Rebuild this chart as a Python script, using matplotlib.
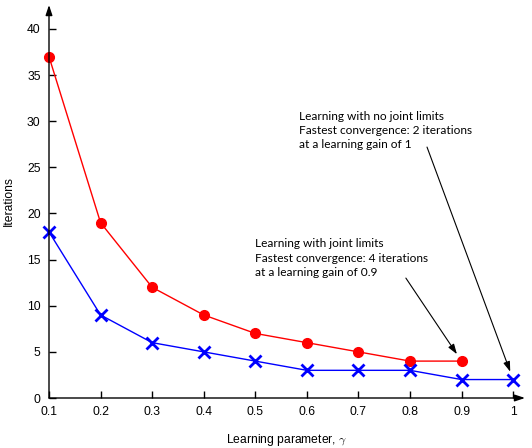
import numpy as np
import matplotlib
matplotlib.use("Agg")
import matplotlib.pyplot as plt

plt.rcParams["font.family"] = ["Liberation Sans", "DejaVu Sans"]
plt.rcParams["mathtext.fontset"] = "cm"

# learning gain sweep
gain = [0.1, 0.2, 0.3, 0.4, 0.5, 0.6, 0.7, 0.8, 0.9, 1.0]
iters_limits = [37, 19, 12, 9, 7, 6, 5, 4, 4]          # with joint limits (0.1..0.9)
iters_no_limits = [18, 9, 6, 5, 4, 3, 3, 3, 2, 2]      # no joint limits (0.1..1.0)
xtick_labels = ["0.1", "0.2", "0.3", "0.4", "0.5", "0.6", "0.7", "0.8", "0.9", "1"]
yticks = [0, 5, 10, 15, 20, 25, 30, 35, 40]

fig = plt.figure(figsize=(5.32, 4.48), dpi=100)
ax = fig.add_axes([49 / 532, 50 / 448, 476 / 532, 393 / 448])

ax.plot(gain[:len(iters_limits)], iters_limits, color="#ff0000", lw=1,
        marker="o", markersize=7, clip_on=False, zorder=3)
ax.plot(gain, iters_no_limits, color="#0000ff", lw=1, marker="x",
        markersize=9, markeredgewidth=2, clip_on=False, zorder=3)

ax.set_xlim(0.1, 1.023)
ax.set_ylim(0, 42.6)
ax.set_xticks(gain)
ax.set_xticklabels(xtick_labels)
ax.set_yticks(yticks)
ax.tick_params(direction="in", length=5, width=1, labelsize=8.7, pad=6)

for s in ax.spines.values():
    s.set_visible(False)

# axis arrows
arrow = dict(arrowstyle="-|>,head_length=0.6,head_width=0.2", color="black", lw=1,
             shrinkA=0, shrinkB=0)
ax.annotate("", xy=(1, 0), xytext=(0, 0), xycoords="axes fraction", arrowprops=arrow)
ax.annotate("", xy=(0, 1), xytext=(0, 0), xycoords="axes fraction", arrowprops=arrow)

ax.set_xlabel(r"Learning parameter, $\gamma$", fontsize=8.7, labelpad=10)
ax.set_ylabel("Iterations", fontsize=8.7, labelpad=9)

note = dict(fontsize=8.6, family=["Lato", "DejaVu Sans"], linespacing=1.35,
            ha="left", va="top")
pointer = dict(arrowstyle="-|>,head_length=0.6,head_width=0.2", color="black", lw=0.8,
               shrinkA=0, shrinkB=6)
ax.annotate("Learning with no joint limits\nFastest convergence: 2 iterations\n"
            "at a learning gain of 1",
            xy=(gain[-1], iters_no_limits[-1]), xytext=(0.585, 31.1), **note)
ax.annotate("", xy=(gain[-1], iters_no_limits[-1]), xytext=(0.833, 27.2),
            arrowprops=pointer)
ax.annotate("Learning with joint limits\nFastest convergence: 4 iterations\n"
            "at a learning gain of 0.9",
            xy=(gain[8], iters_limits[8]), xytext=(0.5, 17.3), **note)
ax.annotate("", xy=(gain[8], iters_limits[8]), xytext=(0.792, 13.0),
            arrowprops=pointer)

fig.savefig("out.png", dpi=100)
